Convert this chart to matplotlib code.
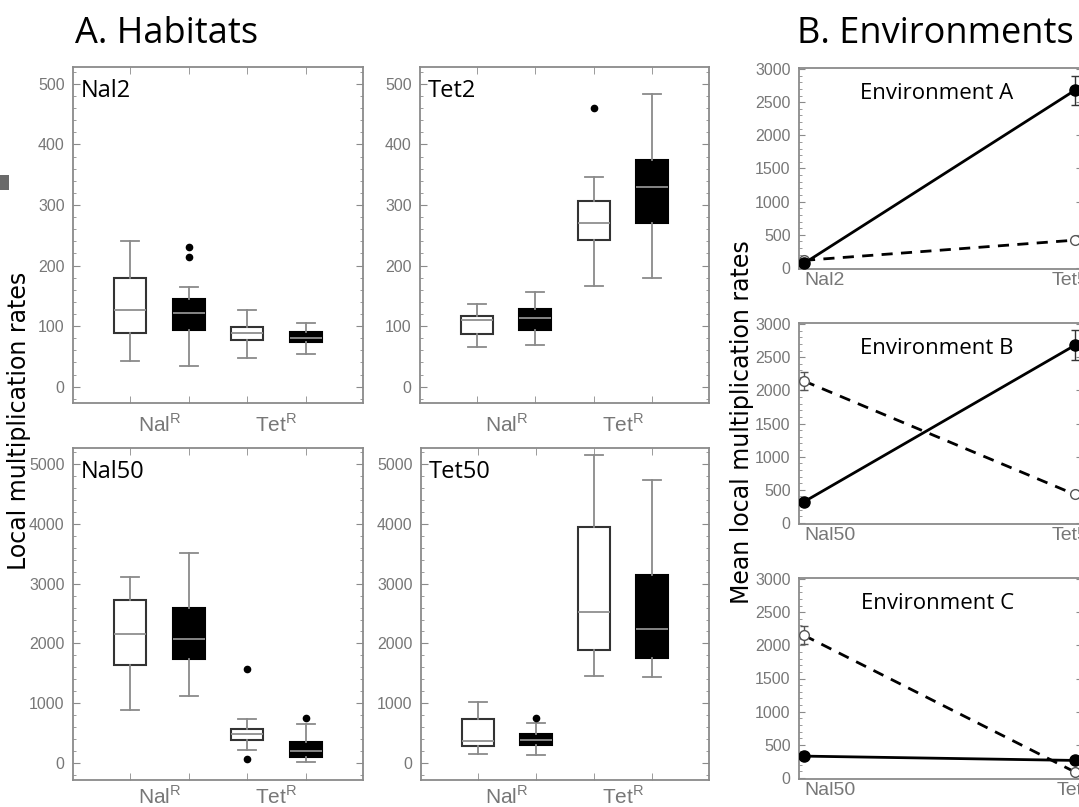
import matplotlib
matplotlib.use("Agg")
import matplotlib.pyplot as plt
from matplotlib.ticker import MultipleLocator, FixedLocator
from matplotlib.patches import Rectangle

# ---- A. Habitats: box plots (NalR white, NalR black, TetR white, TetR black)
panels = ["Nal2", "Tet2", "Nal50", "Tet50"]
box_lo = [[43, 34, 47, 54], [66, 69, 167, 180], [894, 1129, 212, 20], [156, 128, 1458, 1436]]
box_q1 = [[88, 94, 77, 73], [87, 94, 242, 270], [1631, 1732, 380, 100], [279, 296, 1894, 1754]]
box_med = [[127, 122, 88, 81], [110, 114, 271, 329], [2162, 2073, 480, 201], [369, 380, 2531, 2246]]
box_q3 = [[180, 144, 99, 91], [116, 129, 307, 375], [2726, 2598, 564, 352], [743, 480, 3944, 3140]]
box_hi = [[241, 165, 127, 105], [137, 157, 346, 484], [3118, 3509, 737, 648], [1022, 670, 5146, 4727]]
box_out = [[[], [231, 214], [], []], [[], [], [461], []],
           [[], [], [1576, 73], [749]], [[], [754], [], []]]
strain_labels = ["Nal$^{\\mathregular{R}}$", "Tet$^{\\mathregular{R}}$"]

# ---- B. Environments: means of TetR (solid) and NalR (dashed)
env_titles = ["Environment A", "Environment B", "Environment C"]
env_sites = [["Nal2", "Tet50"], ["Nal50", "Tet50"], ["Nal50", "Tet2"]]
tet_mean = [[70, 2680], [320, 2680], [330, 265]]
tet_err = [[15, 220], [30, 225], [25, 20]]
nal_mean = [[115, 420], [2140, 430], [2150, 90]]
nal_err = [[20, 30], [140, 40], [135, 20]]

W, H = 1079, 807
fig = plt.figure(figsize=(W / 100, H / 100), dpi=100)
plt.rcParams['font.family'] = ['Liberation Sans', 'DejaVu Sans']

GRAY = '#8a8a8a'
TXT = '#777777'


def rect(l, t, r, b):
    return [l / W, 1 - b / H, (r - l) / W, (b - t) / H]


box_rects = [rect(73, 67, 363, 403), rect(420, 67, 709, 403),
             rect(73, 448, 363, 780), rect(421, 448, 709, 780)]

for i, name in enumerate(panels):
    ax = fig.add_axes(box_rects[i])
    stats = []
    for j in range(4):
        stats.append(dict(whislo=box_lo[i][j], q1=box_q1[i][j], med=box_med[i][j],
                          q3=box_q3[i][j], whishi=box_hi[i][j], fliers=box_out[i][j]))
    for j in range(4):
        filled = j % 2 == 1
        ax.bxp([stats[j]], positions=[j + 1], widths=0.55, capwidths=0.31,
               patch_artist=True, manage_ticks=False,
               boxprops=dict(facecolor='black' if filled else 'white',
                             edgecolor='black' if filled else '#333333', linewidth=1.5),
               medianprops=dict(color='#8f8f8f', linewidth=1.3),
               whiskerprops=dict(color=GRAY, linewidth=1.3),
               capprops=dict(color=GRAY, linewidth=1.3),
               flierprops=dict(marker='o', markersize=4.5, markerfacecolor='black',
                               markeredgecolor='black'))
    ax.set_xlim(0.02, 4.98)
    if i < 2:
        ax.set_ylim(-27, 528)
        ax.yaxis.set_major_locator(MultipleLocator(100))
        ax.yaxis.set_minor_locator(MultipleLocator(20))
    else:
        ax.set_ylim(-284, 5268)
        ax.yaxis.set_major_locator(MultipleLocator(1000))
        ax.yaxis.set_minor_locator(MultipleLocator(200))
    ax.set_xticks([1.5, 3.5])
    ax.set_xticklabels(strain_labels, fontsize=15, color=TXT)
    ax.xaxis.set_minor_locator(FixedLocator([1, 2, 3, 4]))
    ax.tick_params(axis='x', which='major', length=0, pad=7 if i < 2 else 4)
    ax.tick_params(axis='x', which='minor', direction='in', length=5, color=GRAY,
                   top=True, bottom=True)
    ax.tick_params(axis='y', which='both', direction='in', color=GRAY,
                   left=True, right=True, labelsize=11.5, labelcolor=TXT, pad=6)
    ax.tick_params(axis='y', which='major', length=5)
    ax.tick_params(axis='y', which='minor', length=2.5)
    for s in ax.spines.values():
        s.set_color(GRAY)
        s.set_linewidth(1.3)
    ax.text(0.027, 0.965, name, transform=ax.transAxes, ha='left', va='top',
            fontsize=17, family='Open Sans', color='black')

env_rects = [rect(799, 68, 1082, 269), rect(799, 323, 1082, 524), rect(799, 578, 1082, 779)]
xs = [0, 1]
for i, title in enumerate(env_titles):
    ax = fig.add_axes(env_rects[i])
    ax.plot(xs, nal_mean[i], color='black', linestyle=(0, (4, 3)), linewidth=2, zorder=2)
    ax.errorbar(xs, nal_mean[i], yerr=nal_err[i], fmt='o', markersize=7,
                markerfacecolor='white', markeredgecolor='#555555', ecolor='#555555',
                elinewidth=1, capsize=3, zorder=3)
    ax.plot(xs, tet_mean[i], color='black', linewidth=2, zorder=4)
    ax.errorbar(xs, tet_mean[i], yerr=tet_err[i], fmt='o', markersize=8,
                markerfacecolor='black', markeredgecolor='black', ecolor='#333333',
                elinewidth=1, capsize=3, zorder=5)
    ax.set_xlim(-0.0185, 1.0258)
    ax.set_ylim(-15, 3015)
    ax.yaxis.set_major_locator(MultipleLocator(500))
    ax.yaxis.set_minor_locator(MultipleLocator(100))
    ax.set_xticks(xs)
    ax.set_xticklabels(env_sites[i], fontsize=14, color=TXT)
    ax.get_xticklabels()[0].set_horizontalalignment('left')
    ax.tick_params(axis='x', length=0, pad=2)
    ax.tick_params(axis='y', which='both', direction='in', color=GRAY,
                   left=True, right=True, labelsize=11.5, labelcolor=TXT, pad=6)
    ax.tick_params(axis='y', which='major', length=4)
    ax.tick_params(axis='y', which='minor', length=2)
    for s in ax.spines.values():
        s.set_color(GRAY)
        s.set_linewidth(1.3)
    ax.text(0.488, 0.925, title, transform=ax.transAxes, ha='center', va='top',
            fontsize=16, family='Open Sans', color='black')

fig.text(75 / W, 1 - 43 / H, "A. Habitats", ha='left', va='baseline',
         fontsize=26, family='Open Sans')
fig.text(797 / W, 1 - 43 / H, "B. Environments", ha='left', va='baseline',
         fontsize=26, family='Open Sans')
fig.text(19 / W, 1 - 421 / H, "Local multiplication rates", rotation=90,
         ha='center', va='center', fontsize=17, family='DejaVu Sans')
fig.text(742 / W, 1 - 422 / H, "Mean local multiplication rates", rotation=90,
         ha='center', va='center', fontsize=17, family='DejaVu Sans')

fig.patches.append(Rectangle((0, 1 - 190 / H), 9 / W, 15 / H, transform=fig.transFigure,
                             facecolor='#6a6a6a', edgecolor='none'))

fig.savefig("out.png", dpi=100)
